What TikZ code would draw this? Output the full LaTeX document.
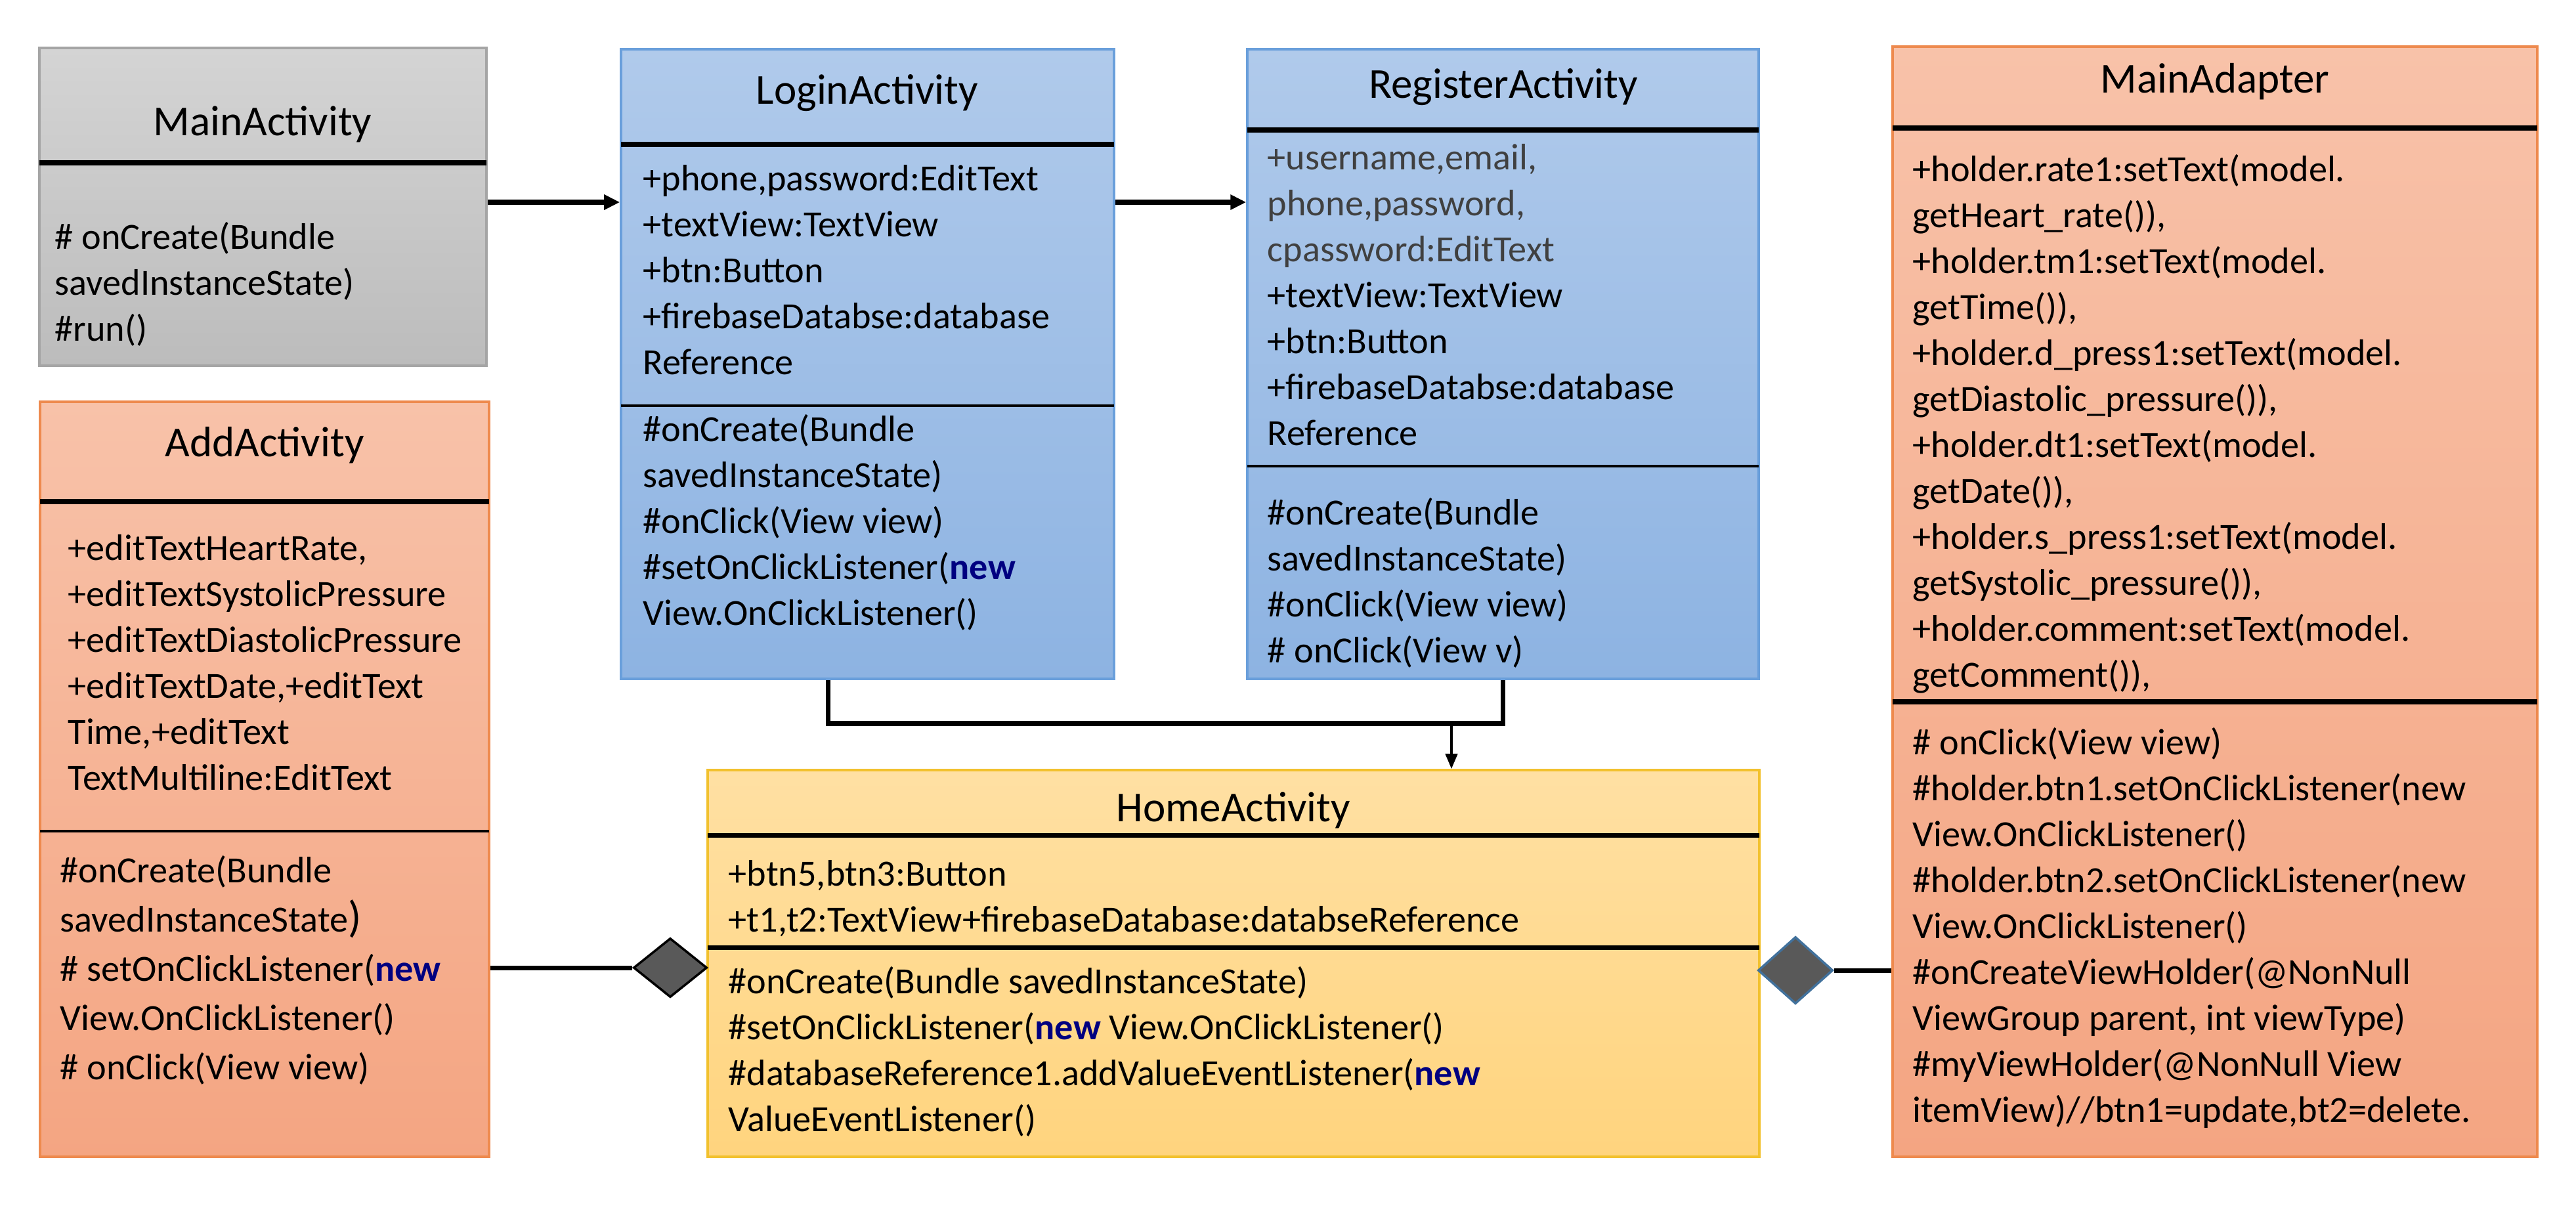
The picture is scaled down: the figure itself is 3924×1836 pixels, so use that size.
\documentclass[tikz,border=0pt]{standalone}
\usepackage{fontspec}
\setmainfont{Carlito}
\usetikzlibrary{arrows.meta,positioning,fit,shapes.geometric}
\definecolor{ink}{HTML}{000000}
\definecolor{navy}{HTML}{000080}
\definecolor{graytop}{HTML}{D4D4D4}
\definecolor{graybot}{HTML}{BCBCBC}
\definecolor{graybd}{HTML}{A5A5A5}
\definecolor{bluetop}{HTML}{B0CAEB}
\definecolor{bluebot}{HTML}{8DB3E2}
\definecolor{bluebd}{HTML}{6A9FDB}
\definecolor{yeltop}{HTML}{FFE0A3}
\definecolor{yelbot}{HTML}{FFD47E}
\definecolor{yelbd}{HTML}{F2C12E}
\definecolor{saltop}{HTML}{F8C2A9}
\definecolor{salbot}{HTML}{F4A582}
\definecolor{salbd}{HTML}{EE8A4E}
\definecolor{diafill}{HTML}{595959}
\definecolor{diabd}{HTML}{41719C}
\definecolor{dimtext}{HTML}{404040}
\newcommand{\kw}[1]{\textbf{\textcolor{navy}{#1}}}
\tikzset{
  cls/.style={inner sep=0pt,line width=1pt},
  clsgray/.style={cls,draw=graybd,top color=graytop,bottom color=graybot},
  clsblue/.style={cls,draw=bluebd,top color=bluetop,bottom color=bluebot},
  clsyel/.style={cls,draw=yelbd,top color=yeltop,bottom color=yelbot},
  clssal/.style={cls,draw=salbd,top color=saltop,bottom color=salbot},
  ttl/.style={inner sep=0pt,font=\fontsize{18.5}{22}\selectfont,text=ink},
  txt/.style={anchor=north west,inner sep=0pt,align=left,font=\fontsize{16}{19.9}\selectfont,text=ink},
  sepk/.style={draw=ink,line width=2pt},
  sept/.style={draw=ink,line width=1pt},
  ar/.style={-{Triangle[length=2.4mm,width=2.2mm]},draw=ink,line width=2pt},
  arv/.style={-{Triangle[length=2.3mm,width=1.8mm]},draw=ink,line width=1.2pt},
  link/.style={draw=ink,line width=2pt},
  dia/.style={diamond,inner sep=0pt,fill=diafill,line width=1pt},
}
\begin{document}
\begin{tikzpicture}[x=0.01cm,y=-0.01cm]
\useasboundingbox (0,0) rectangle (3924,1836);
% class boxes
\node[clsgray,fit={(60,73) (741,557)}] (main) {};
\node[clsblue,fit={(946,75) (1697,1034)}] (login) {};
\node[clsblue,fit={(1900,75) (2679,1034)}] (register) {};
\node[clsyel,fit={(1078,1173) (2680,1762)}] (home) {};
\node[clssal,fit={(61,612) (745,1762)}] (add) {};
\node[clssal,fit={(2883,71) (3865,1762)}] (adapter) {};
% compartments
\draw[sepk] (60,248) -- (741,248);
\draw[sepk] (946,220) -- (1697,220);
\draw[sept] (946,618) -- (1697,618);
\draw[sepk] (1900,198) -- (2679,198);
\draw[sept] (1900,710) -- (2679,710);
\draw[sepk] (1078,1272) -- (2680,1272);
\draw[sepk] (1078,1443) -- (2680,1443);
\draw[sepk] (61,764) -- (745,764);
\draw[sept] (61,1266) -- (745,1266);
\draw[sepk] (2883,195) -- (3865,195);
\draw[sepk] (2883,1069) -- (3865,1069);
% MainActivity
\node[ttl] (mainT) at (400,189) {MainActivity};
\node[txt] (mainM) at (83,338) {\# onCreate(Bundle\\savedInstanceState)\\\#run()};
% LoginActivity
\node[ttl] (loginT) at (1321,142) {LoginActivity};
\node[txt] (loginA) at (979,251) {+phone,password:EditText\\+textView:TextView\\+btn:Button\\+firebaseDatabse:database\\Reference};
\node[txt] (loginM) at (979,631) {\#onCreate(Bundle\\savedInstanceState)\\\#onClick(View view)\\\#setOnClickListener(\kw{new}\\View.OnClickListener()};
% RegisterActivity
\node[ttl] (registerT) at (2290,133) {RegisterActivity};
\node[txt] (registerA) at (1930,219) {\textcolor{dimtext}{+username,email,}\\\textcolor{dimtext}{phone,password,}\\\textcolor{dimtext}{cpassword:EditText}\\+textView:TextView\\+btn:Button\\+firebaseDatabse:database\\Reference};
\node[txt] (registerM) at (1930,758) {\#onCreate(Bundle\\savedInstanceState)\\\#onClick(View view)\\\# onClick(View v)};
% HomeActivity
\node[ttl] (homeT) at (1879,1234) {HomeActivity};
\node[txt] (homeA) at (1109,1310) {+btn5,btn3:Button\\+t1,t2:TextView+firebaseDatabase:databseReference};
\node[txt] (homeM) at (1109,1472) {\#onCreate(Bundle savedInstanceState)\\\#setOnClickListener(\kw{new} View.OnClickListener()\\\#databaseReference1.addValueEventListener(\kw{new}\\ValueEventListener()};
% AddActivity
\node[ttl] (addT) at (403,678) {AddActivity};
\node[txt] (addA) at (103,814) {+editTextHeartRate,\\+editTextSystolicPressure\\+editTextDiastolicPressure\\+editTextDate,+editText\\Time,+editText\\TextMultiline:EditText};
\node[txt,font=\fontsize{16}{21.3}\selectfont] (addM) at (91,1303) {\#onCreate(Bundle\\savedInstanceState{\fontsize{19}{21}\selectfont)}\\\# setOnClickListener(\kw{new}\\View.OnClickListener()\\\# onClick(View view)};
% MainAdapter
\node[ttl] (adapterT) at (3374,124) {MainAdapter};
\node[txt] (adapterA) at (2913,235) {+holder.rate1:setText(model.\\getHeart\_rate()),\\+holder.tm1:setText(model.\\getTime()),\\+holder.d\_press1:setText(model.\\getDiastolic\_pressure()),\\+holder.dt1:setText(model.\\getDate()),\\+holder.s\_press1:setText(model.\\getSystolic\_pressure()),\\+holder.comment:setText(model.\\getComment()),};
\node[txt] (adapterM) at (2913,1108) {\# onClick(View view)\\\#holder.btn1.setOnClickListener(new\\View.OnClickListener()\\\#holder.btn2.setOnClickListener(new\\View.OnClickListener()\\\#onCreateViewHolder(@NonNull\\ViewGroup parent, int viewType)\\\#myViewHolder(@NonNull View\\itemView)//btn1=update,bt2=delete.};
% connectors
\coordinate (lvl) at (0,308);
\draw[ar] (main.east |- lvl) -- (login.west |- lvl);
\draw[ar] (login.east |- lvl) -- (register.west |- lvl);
\coordinate (jl) at (1261,1102);
\coordinate (jh) at (2211,1102);
\draw[link] (jl |- login.south) -- (jl) -- (jl -| register.south) -- (register.south);
\draw[arv] (jh) -- (jh |- home.north);
\node[dia,draw=ink,minimum width=1.12cm,minimum height=0.9cm] (dl) at (1021,1474) {};
\node[dia,draw=diabd,minimum width=1.14cm,minimum height=1.02cm] (dr) at (2735,1478) {};
\draw[link] (dl.west -| add.east) -- (dl.west);
\draw[link] (dr.east) -- (dr.east -| adapter.west);
\end{tikzpicture}
\end{document}
